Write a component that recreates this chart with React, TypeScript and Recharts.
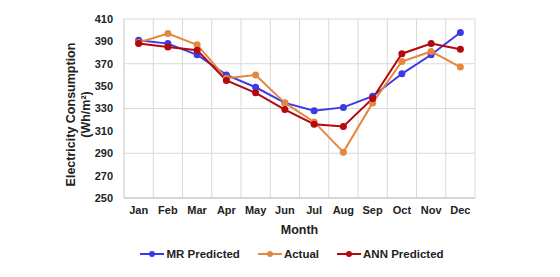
import React from 'react';
import { LineChart, Line, XAxis, YAxis, CartesianGrid, Legend, Label } from 'recharts';

const months = ['Jan', 'Feb', 'Mar', 'Apr', 'May', 'Jun', 'Jul', 'Aug', 'Sep', 'Oct', 'Nov', 'Dec'];
const mrPredicted = [391, 388, 378, 360, 349, 335, 328, 331, 341, 361, 378, 398];
const actual = [389, 397, 387, 357, 360, 335, 318, 291, 335, 372, 381, 367];
const annPredicted = [388, 385, 382, 355, 344, 329, 316, 314, 339, 379, 388, 383];
const yTicks = [250, 270, 290, 310, 330, 350, 370, 390, 410];

const seriesInfo = [
  { key: 'mr', name: 'MR Predicted', color: '#3b3be6' },
  { key: 'actual', name: 'Actual', color: '#e5873f' },
  { key: 'ann', name: 'ANN Predicted', color: '#b3080e' },
];

const data = months.map((m, i) => ({ month: m, mr: mrPredicted[i], actual: actual[i], ann: annPredicted[i] }));

const FONT = 'Liberation Sans, Arial, sans-serif';

const LegendContent = () => (
  <div style={{ paddingTop: 10, display: 'flex', justifyContent: 'center', alignItems: 'center', fontFamily: FONT, fontWeight: 'bold', fontSize: 11.5, color: '#222', paddingLeft: 109 }}>
    {seriesInfo.map((s, i) => (
      <div key={s.key} style={{ display: 'flex', alignItems: 'center', marginLeft: i === 0 ? 0 : 18 }}>
        <svg width={24} height={10} style={{ marginRight: 2 }}>
          <line x1={0} y1={5} x2={24} y2={5} stroke={s.color} strokeWidth={2} />
          <circle cx={12} cy={5} r={3} fill={s.color} />
        </svg>
        <span>{s.name}</span>
      </div>
    ))}
  </div>
);

const YLabel = (props: any) => {
  const vb = props.viewBox || {};
  const cy = (vb.y || 0) + (vb.height || 0) / 2 + 6;
  const x1 = 71;
  const x2 = 86;
  return (
    <g>
      <text x={x1} y={cy} transform={`rotate(-90, ${x1}, ${cy})`} textAnchor="middle" dominantBaseline="central" fontFamily={FONT} fontWeight="bold" fontSize={12.5} fill="#222">
        Electricity Consumption
      </text>
      <text x={x2} y={cy} transform={`rotate(-90, ${x2}, ${cy})`} textAnchor="middle" dominantBaseline="central" fontFamily={FONT} fontWeight="bold" fontSize={12.5} fill="#222">
        (Wh/m²)
      </text>
    </g>
  );
};

export default function App() {
  return (
    <div style={{ position: 'absolute', left: 0, top: 0, width: 560, height: 277, background: '#fff' }}>
      <LineChart width={560} height={277} data={data} margin={{ top: 19, right: 85, left: 0, bottom: 3 }}>
        <CartesianGrid
          stroke="#d9d9d9"
          strokeWidth={1}
          verticalCoordinatesGenerator={(p: any) => {
            const off = p.offset;
            const arr: number[] = [];
            for (let i = 0; i <= months.length; i++) arr.push(off.left + (i * off.width) / months.length);
            return arr;
          }}
        />
        <XAxis
          dataKey="month"
          scale="band"
          height={40}
          tickLine={false}
          axisLine={{ stroke: '#bfbfbf' }}
          tick={{ fontFamily: FONT, fontWeight: 'bold', fontSize: 11, fill: '#222' }}
          interval={0}
        >
          <Label value="Month" position="insideBottom" offset={4} style={{ fontFamily: FONT, fontWeight: 'bold', fontSize: 12.5, fill: '#222' }} />
        </XAxis>
        <YAxis
          width={124}
          domain={[250, 410]}
          ticks={yTicks}
          tickLine={false}
          axisLine={{ stroke: '#d9d9d9' }}
          tickMargin={5}
          tick={{ fontFamily: FONT, fontWeight: 'bold', fontSize: 11, fill: '#222' }}
          label={<YLabel />}
        />
        <Legend verticalAlign="bottom" height={36} content={<LegendContent />} />
        {seriesInfo.map((s) => (
          <Line
            key={s.key}
            type="linear"
            dataKey={s.key}
            name={s.name}
            stroke={s.color}
            strokeWidth={2}
            dot={{ r: 3.5, fill: s.color, stroke: s.color, strokeWidth: 0 }}
            isAnimationActive={false}
          />
        ))}
      </LineChart>
    </div>
  );
}
